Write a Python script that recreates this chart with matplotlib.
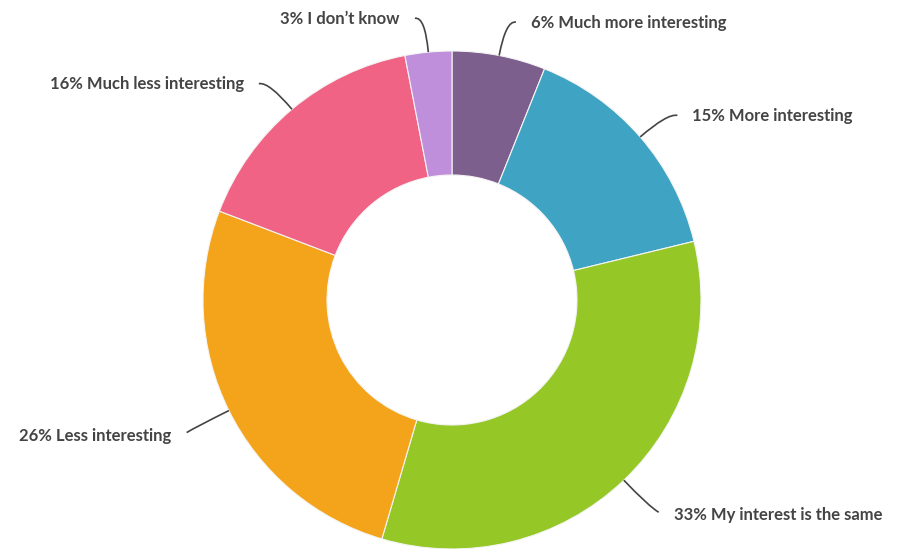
import numpy as np
import matplotlib
matplotlib.use("Agg")
import matplotlib.pyplot as plt
from matplotlib.path import Path
from matplotlib.patches import PathPatch

# Survey responses, clockwise from 12 o'clock
categories = ["Much more interesting", "More interesting", "My interest is the same",
              "Less interesting", "Much less interesting", "I don\u2019t know"]
shares = [6, 15, 33, 26, 16, 3]
colors = ["#7d5f8d", "#3fa3c3", "#95c827", "#f4a41b", "#f06385", "#c08fdb"]

W, H = 902, 549
cx, cy = 452, H - 300
r_out, r_in = 249, 125

fig = plt.figure(figsize=(W / 100, H / 100), dpi=100)
ax = fig.add_axes([0, 0, 1, 1])

wedges, _ = ax.pie(shares, colors=colors, startangle=90, counterclock=False,
                   center=(cx, cy), radius=r_out,
                   wedgeprops=dict(width=r_out - r_in, edgecolor="#f4f4f4", linewidth=0.8))
ax.set_xlim(0, W)
ax.set_ylim(0, H)
ax.set_aspect("equal")
ax.axis("off")

total = sum(shares)
cum = np.cumsum([0] + shares)
line_col = "#444444"
text_col = "#444444"
for i, (lab, v) in enumerate(zip(categories, shares)):
    mid = (cum[i] + v / 2) / total * 2 * np.pi  # clockwise from top
    sx, sy = np.sin(mid), np.cos(mid)
    p0 = (cx + r_out * sx, cy + r_out * sy)
    p1 = (cx + (r_out + 36) * sx, cy + (r_out + 36) * sy)
    side = 1 if sx >= 0 else -1
    upper = sy > 0
    drop = 2 if upper else 6
    p2 = (p1[0] + side * 10, p1[1] - drop)
    path = Path([p0, p1, p2], [Path.MOVETO, Path.CURVE3, Path.CURVE3])
    ax.add_patch(PathPatch(path, fill=False, edgecolor=line_col, lw=1.2))
    ax.text(p2[0] + side * 15, p2[1] - (0.5 if upper else 3), f"{v}% {lab}",
            ha="left" if side > 0 else "right", va="center",
            fontsize=12, family="Lato", fontweight="bold", color=text_col)

fig.savefig("out.png", dpi=100, facecolor="white")
